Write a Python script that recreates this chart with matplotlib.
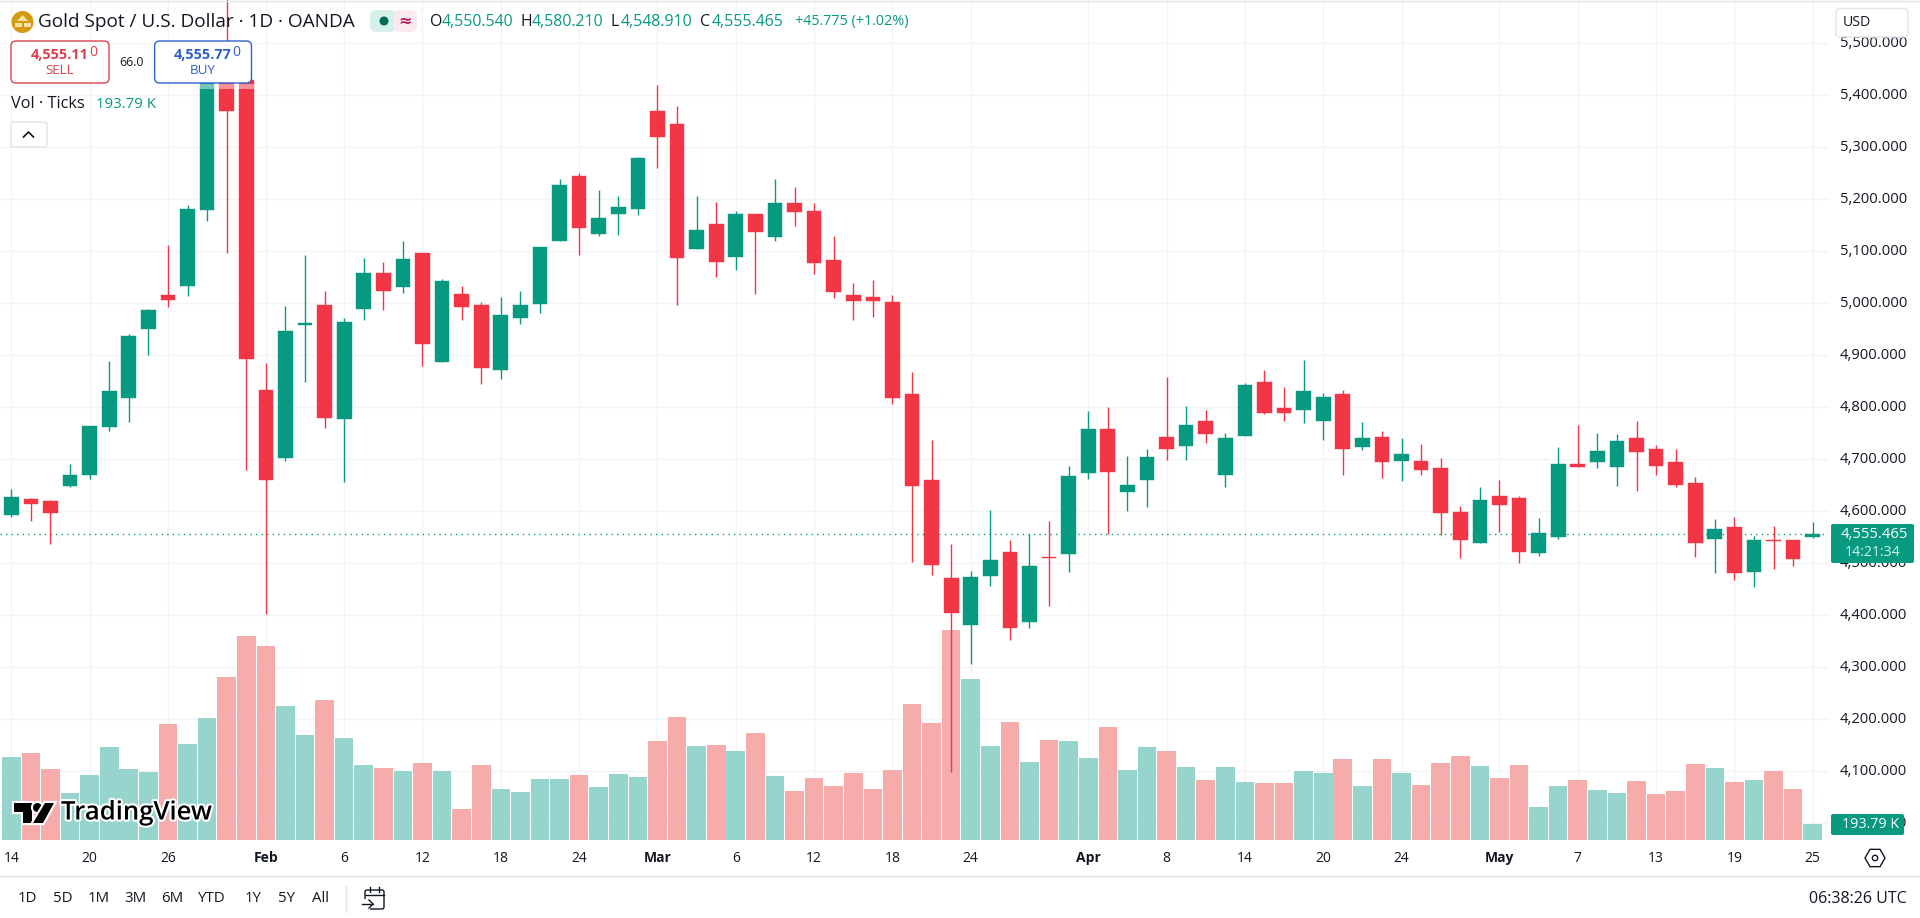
import matplotlib

matplotlib.use("Agg")
import matplotlib.patheffects as pe
import matplotlib.pyplot as plt
from matplotlib.patches import Circle, FancyBboxPatch, Polygon, Rectangle, RegularPolygon

plt.rcParams["font.family"] = ["Open Sans", "DejaVu Sans"]

opens = [
    4592, 4623, 4620, 4649, 4669, 4763, 4817, 4951, 5016, 5034, 5180, 5430, 5430, 4833, 4703, 4958,
    4997, 4778, 4990, 5058, 5032, 5097, 4888, 5018, 4997, 4871, 4972, 4999, 5119, 5245, 5134, 5172,
    5182, 5370, 5345, 5105, 5153, 5090, 5172, 5128, 5193, 5178, 5083, 5016, 5012, 5003, 4826, 4660,
    4472, 4382, 4476, 4522, 4388, 4513, 4517, 4674, 4758, 4638, 4661, 4743, 4726, 4774, 4669, 4745,
    4849, 4799, 4794, 4774, 4826, 4724, 4743, 4696, 4697, 4683, 4599, 4540, 4629, 4626, 4520, 4551,
    4691, 4694, 4686, 4741, 4720, 4695, 4654, 4546, 4570, 4484, 4545, 4545, 4550.54,
]
highs = [
    4642, 4626, 4622, 4691, 4765, 4889, 4941, 4990, 5112, 5190, 5440, 5600, 5440, 4885, 4995, 5092,
    5024, 4971, 5087, 5079, 5119, 5097, 5046, 5033, 5003, 5012, 5024, 5108, 5239, 5251, 5218, 5206,
    5281, 5420, 5379, 5206, 5195, 5178, 5172, 5239, 5224, 5193, 5129, 5039, 5045, 5016, 4868, 4737,
    4537, 4485, 4603, 4545, 4556, 4581, 4687, 4793, 4801, 4706, 4720, 4858, 4803, 4795, 4751, 4847,
    4872, 4839, 4891, 4828, 4833, 4772, 4754, 4741, 4729, 4702, 4610, 4647, 4660, 4629, 4587, 4724,
    4766, 4751, 4749, 4774, 4728, 4720, 4666, 4585, 4589, 4553, 4572, 4545, 4580.21,
]
lows = [
    4590, 4582, 4538, 4647, 4662, 4755, 4772, 4901, 4992, 5015, 5159, 5097, 4680, 4402, 4697, 4849,
    4761, 4657, 4967, 4988, 5020, 4880, 4888, 4967, 4844, 4854, 4960, 4982, 5119, 5093, 5130, 5132,
    5169, 5261, 4997, 5105, 5051, 5064, 5017, 5119, 5149, 5057, 5011, 4968, 4974, 4807, 4503, 4478,
    4098, 4307, 4456, 4353, 4376, 4418, 4483, 4663, 4556, 4601, 4608, 4699, 4699, 4732, 4646, 4745,
    4788, 4774, 4769, 4738, 4670, 4717, 4664, 4658, 4669, 4555, 4510, 4540, 4560, 4501, 4515, 4547,
    4686, 4683, 4649, 4640, 4670, 4646, 4513, 4482, 4467, 4455, 4490, 4494, 4548.91,
]
closes = [
    4627, 4615, 4596, 4670, 4764, 4831, 4937, 4987, 5007, 5181, 5430, 5369, 4893, 4661, 4947, 4963,
    4780, 4964, 5058, 5024, 5085, 4921, 5043, 4992, 4876, 4978, 4997, 5108, 5228, 5144, 5164, 5185,
    5279, 5320, 5088, 5141, 5080, 5172, 5138, 5193, 5176, 5078, 5021, 5005, 5005, 4817, 4649, 4497,
    4405, 4474, 4506, 4376, 4495, 4511, 4668, 4758, 4676, 4651, 4704, 4719, 4766, 4749, 4741, 4843,
    4790, 4790, 4831, 4820, 4720, 4741, 4694, 4710, 4680, 4596, 4544, 4622, 4613, 4522, 4558, 4691,
    4686, 4716, 4735, 4715, 4688, 4651, 4540, 4566, 4482, 4545, 4543, 4509, 4555.465,
]
volumes_k = [
    1006, 1054, 861, 570, 788, 1127, 861, 824, 1406, 1164, 1479, 1976, 2472, 2351, 1624, 1273,
    1697, 1236, 909, 873, 836, 933, 836, 376, 909, 618, 582, 739, 739, 788, 642, 800,
    764, 1200, 1491, 1139, 1151, 1079, 1297, 776, 594, 751, 654, 812, 618, 848, 1648, 1418,
    2545, 1951, 1139, 1430, 945, 1212, 1200, 994, 1370, 848, 1127, 1079, 885, 727, 885, 703,
    691, 691, 836, 812, 982, 654, 982, 812, 667, 933, 1018, 897, 751, 909, 400, 654,
    727, 606, 570, 715, 558, 594, 921, 873, 703, 727, 836, 618, 193.79,
]
date_ticks = [0, 4, 8, 13, 17, 21, 25, 29, 33, 37, 41, 45, 49, 55, 59, 63, 67, 71, 76, 80, 84, 88, 92]
date_labels = [
    "14", "20", "26", "Feb", "6", "12", "18", "24", "Mar", "6", "12", "18", "24",
    "Apr", "8", "14", "20", "24", "May", "7", "13", "19", "25",
]
month_labels = ["Feb", "Mar", "Apr", "May"]
price_ticks = list(range(4000, 5600, 100))
range_buttons = ["1D", "5D", "1M", "3M", "6M", "YTD", "1Y", "5Y", "All"]

UP = "#089981"
DOWN = "#F23645"
VOL_UP = "#92D2CB"
VOL_DOWN = "#F7A8A8"
GRID = "#F3F4F7"
TEXT = "#131722"
WIDTH, HEIGHT = 1920, 918
PLOT_RIGHT, PLOT_BOTTOM = 1828, 840

fig = plt.figure(figsize=(WIDTH / 100, HEIGHT / 100), dpi=100, facecolor="white")
rect = [0, 1 - PLOT_BOTTOM / HEIGHT, PLOT_RIGHT / WIDTH, PLOT_BOTTOM / HEIGHT]

# volume sits below the candles, so it owns the grid
ax_vol = fig.add_axes(rect)
ax_vol.set_xlim(-0.577, 92.78)
ax_vol.set_ylim(0, 10181)
ax_vol.set_xticks(date_ticks)
ax_vol.set_yticks([])
ax_vol.grid(axis="x", color=GRID, linewidth=1)
ax_vol.set_axisbelow(True)
ax_vol.tick_params(length=0, labelbottom=False)
for spine in ax_vol.spines.values():
    spine.set_visible(False)

ax_price = fig.add_axes(rect, sharex=ax_vol)
ax_price.patch.set_alpha(0)
ax_price.set_ylim(5400 - (PLOT_BOTTOM - 95.3) / 0.52, 5400 + 95.3 / 0.52)
ax_price.set_yticks(price_ticks)
ax_price.tick_params(length=0, labelbottom=False, labelleft=False)
for spine in ax_price.spines.values():
    spine.set_visible(False)
for tick in price_ticks:
    ax_vol.axhline((tick - ax_price.get_ylim()[0]) * 0.52 * 10181 / PLOT_BOTTOM, color=GRID, linewidth=1, zorder=0)

xs = list(range(len(closes)))
is_up = [c >= o for o, c in zip(opens, closes)]
colors = [UP if up else DOWN for up in is_up]
vol_colors = [VOL_UP if up else VOL_DOWN for up in is_up]

ax_vol.bar(xs, volumes_k, width=0.95, color=vol_colors, alpha=0.95, linewidth=0, zorder=2)
ax_price.axhline(closes[-1], color=UP, linewidth=1, linestyle=(0, (1, 3)), zorder=1)
ax_price.vlines(xs, lows, highs, colors=colors, linewidth=1, zorder=2)
bottoms = [min(o, c) for o, c in zip(opens, closes)]
heights = [abs(o - c) for o, c in zip(opens, closes)]
ax_price.bar(xs, heights, bottom=bottoms, width=0.75, color=colors, edgecolor=colors, linewidth=0.3, zorder=3)

# everything around the plot is placed in screen pixels
ui = fig.add_axes([0, 0, 1, 1], facecolor="none")
ui.set_xlim(0, WIDTH)
ui.set_ylim(HEIGHT, 0)
ui.axis("off")


def px_to_x(index):
    return 11.3 + 19.58 * index


def px_to_y(price):
    return 95.3 + (5400 - price) * 0.52


def label(x, y, text, size=10, color=TEXT, ha="left", weight="normal", zorder=7, **kwargs):
    return ui.text(x, y, text, fontsize=size, color=color, ha=ha, va="center", fontweight=weight, zorder=zorder, **kwargs)


def button(x0, y0, x1, y1, edge, zorder=5, radius=5):
    box = FancyBboxPatch(
        (x0 + radius, y0 + radius),
        x1 - x0 - 2 * radius,
        y1 - y0 - 2 * radius,
        boxstyle=f"round,pad={radius},rounding_size={radius}",
        facecolor="white",
        edgecolor=edge,
        linewidth=1,
        zorder=zorder,
    )
    ui.add_patch(box)


# date axis and price axis
for index, text in zip(date_ticks, date_labels):
    bold = text in month_labels
    label(px_to_x(index), 858, text, size=10, ha="center", weight="bold" if bold else "normal")
for tick in price_ticks:
    label(1907, px_to_y(tick), f"{tick:,}.000", size=10.6, ha="right", zorder=3)

# header row
ui.add_patch(Circle((22.5, 22), 11, facecolor="#D49B12", edgecolor="none"))
ui.add_patch(Polygon([(17, 21), (22.5, 15), (28, 21)], facecolor="#F6E3A8", edgecolor="none"))
ui.add_patch(Rectangle((14.5, 23), 7, 4, facecolor="#F6E3A8", edgecolor="none"))
ui.add_patch(Rectangle((23.5, 23), 7, 4, facecolor="#F6E3A8", edgecolor="none"))
label(38, 22, "Gold Spot / U.S. Dollar · 1D · OANDA", size=13.7)
ui.add_patch(FancyBboxPatch((373, 13), 20, 16, boxstyle="round,pad=3,rounding_size=6", facecolor="#D5EFEA", edgecolor="none"))
ui.add_patch(FancyBboxPatch((396, 13), 18, 16, boxstyle="round,pad=3,rounding_size=6", facecolor="#FBE9F0", edgecolor="none"))
ui.add_patch(Circle((384, 21), 4.5, facecolor="#00695C", edgecolor="none"))
label(405, 21, "≈", size=11.5, color="#B0185C", ha="center", weight="bold", family="DejaVu Sans")

for x_letter, letter, x_value, value in [
    (430, "O", 442, "4,550.540"),
    (520, "H", 532, "4,580.210"),
    (611, "L", 621, "4,548.910"),
    (700, "C", 712, "4,555.465"),
]:
    label(x_letter, 22, letter, size=11.4)
    label(x_value, 22, value, size=11.4, color=UP)
label(795, 22, "+45.775 (+1.02%)", size=10.4, color=UP)

# sell and buy buttons
button(11, 41, 109, 83, "#D9414F")
label(89, 55, "4,555.11", size=10.4, color="#D9414F", ha="right", weight="bold")
label(89, 53, "0", size=10, color="#D9414F")
label(60, 71, "SELL", size=9.6, color="#D9414F", ha="center")
label(131.5, 62, "66.0", size=8.8, ha="center")
button(154.6, 41, 251.5, 83, "#2F62C9")
label(232, 55, "4,555.77", size=10.4, color="#2F62C9", ha="right", weight="bold")
label(232, 53, "0", size=10, color="#2F62C9")
label(203, 71, "BUY", size=9.6, color="#2F62C9", ha="center")
ui.add_patch(Rectangle((199, 84), 55, 5, facecolor="white", alpha=0.45, edgecolor="none", zorder=4))

# volume legend
label(11, 104, "Vol · Ticks", size=11.8)
label(96, 104, "193.79 K", size=10.8, color=UP)
button(11, 122, 47, 147, "#E0E3EB", radius=3)
ui.plot([23.5, 28.5, 33.5], [137, 132, 137], color=TEXT, linewidth=1.2, zorder=6)

# currency button
button(1836, 8.5, 1908, 37, "#E0E3EB", radius=4)
label(1843, 23, "USD", size=10.2)

# last price and volume tags
ui.add_patch(FancyBboxPatch((1832, 525), 81, 37, boxstyle="round,pad=1,rounding_size=2", facecolor=UP, edgecolor="none", zorder=5))
label(1908, 534, "4,555.465", size=10.6, color="white", ha="right")
label(1900, 552, "14:21:34", size=10.2, color="#D5EFEA", ha="right")
ui.add_patch(FancyBboxPatch((1832, 815), 71, 19, boxstyle="round,pad=1,rounding_size=2", facecolor=UP, edgecolor="none", zorder=5))
label(1899, 825, "193.79 K", size=10.3, color="white", ha="right")

# TradingView watermark
halo = [pe.withStroke(linewidth=3, foreground="white")]
logo_parts = [
    Polygon([(14, 803), (32, 803), (32, 823), (23, 823), (23, 812), (14, 812)], facecolor="black"),
    Circle((37.5, 807.5), 4.5, facecolor="black"),
    Polygon([(45, 803), (54, 803), (43, 823), (33, 823)], facecolor="black"),
]
for part in logo_parts:
    part.set_edgecolor("none")
    part.set_path_effects(halo)
    part.set_zorder(4)
    ui.add_patch(part)
label(61, 813, "TradingView", size=18.5, color="black", weight="semibold", path_effects=halo, zorder=4)

# settings icon
ui.add_patch(RegularPolygon((1875, 858), 6, radius=10, orientation=1.5708, facecolor="none", edgecolor=TEXT, linewidth=1))
ui.add_patch(Circle((1875, 858), 2.7, facecolor="none", edgecolor=TEXT, linewidth=1))

# bottom toolbar
ui.plot([0, WIDTH], [875.7, 875.7], color="#E0E3EB", linewidth=1)
ui.plot([0, WIDTH], [0.5, 0.5], color="#E0E3EB", linewidth=1)
for x, text in zip([27, 63, 98.5, 135, 172, 212, 253, 287, 321], range_buttons):
    label(x, 899, text, size=10.8, ha="center")
ui.plot([346, 346], [886, 912], color="#E0E3EB", linewidth=1)
ui.add_patch(FancyBboxPatch((365, 890), 19, 19, boxstyle="round,pad=0,rounding_size=2", facecolor="none", edgecolor=TEXT, linewidth=1))
ui.plot([365, 384], [895, 895], color=TEXT, linewidth=1)
ui.plot([370, 370], [887, 892], color=TEXT, linewidth=1)
ui.plot([379, 379], [887, 892], color=TEXT, linewidth=1)
ui.add_patch(Rectangle((361, 899), 9, 11, facecolor="white", edgecolor="none", zorder=2))
ui.plot([362, 373], [904, 904], color=TEXT, linewidth=1, zorder=3)
ui.plot([369, 373, 369], [900, 904, 908], color=TEXT, linewidth=1, zorder=3)
label(1907, 899, "06:38:26 UTC", size=11.5, ha="right")

fig.savefig("out.png", dpi=100)
